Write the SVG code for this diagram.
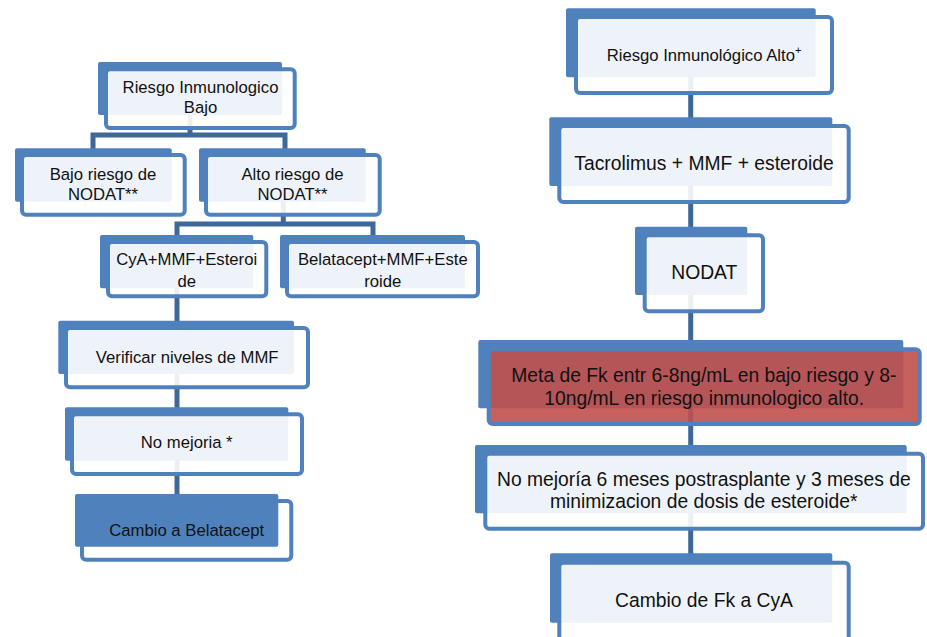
<svg xmlns="http://www.w3.org/2000/svg" width="927" height="637" viewBox="0 0 927 637">
<style>
.back{fill:#4F81BD;}
.front{fill:#FFFFFF;fill-opacity:0.9;stroke:#4F81BD;stroke-width:4;}
.red{fill:#C0504D;fill-opacity:0.9;stroke:#4F81BD;stroke-width:4;}
.outline{fill:#FFFFFF;stroke:#4F81BD;stroke-width:4;}
.conn{fill:none;stroke:#3E6898;stroke-width:5;}
text{font-family:"Liberation Sans",Arial,sans-serif;fill:#111111;text-anchor:middle;}
.s{font-size:16.7px;}
.l{font-size:19.3px;}
</style>
<rect width="927" height="637" fill="#FFFFFF"/>
<g id="connectors">
<path class="conn" d="M190,114 V135"/>
<path class="conn" d="M93,152 V135 H285 V152"/>
<path class="conn" d="M283.3,200 V224"/>
<path class="conn" d="M177,238 V224 H373 V238"/>
<path class="conn" d="M177,287 V322"/>
<path class="conn" d="M177,373 V409"/>
<path class="conn" d="M177,460 V496"/>
<path class="conn" d="M690.7,76 V119"/>
<path class="conn" d="M690.7,185 V228"/>
<path class="conn" d="M690.7,294 V342"/>
<path class="conn" d="M690.7,407 V447"/>
<path class="conn" d="M690.7,512 V555"/>
</g>
<g id="riesgo-bajo">
<rect class="back" x="98" y="62" width="184" height="53" rx="2"/>
<rect class="front" x="106" y="69.3" width="188.7" height="58.7" rx="4"/>
<text class="s" x="200.5" y="93.3">Riesgo Inmunologico</text>
<text class="s" x="200.5" y="113.3">Bajo</text>
</g>
<g id="bajo-nodat">
<rect class="back" x="15" y="148.3" width="156.7" height="53.4" rx="2"/>
<rect class="front" x="22" y="155" width="162.7" height="59.7" rx="4"/>
<text class="s" x="103" y="180">Bajo riesgo de</text>
<text class="s" x="103" y="200">NODAT**</text>
</g>
<g id="alto-nodat">
<rect class="back" x="199" y="148.3" width="166.7" height="53.4" rx="2"/>
<rect class="front" x="206" y="155" width="173.7" height="59.7" rx="4"/>
<text class="s" x="292.5" y="180">Alto riesgo de</text>
<text class="s" x="292.5" y="200">NODAT**</text>
</g>
<g id="cya-mmf">
<rect class="back" x="100" y="235" width="153.3" height="53.3" rx="2"/>
<rect class="front" x="108" y="242" width="158.3" height="54.3" rx="4"/>
<text class="s" x="186.7" y="265">CyA+MMF+Esteroi</text>
<text class="s" x="186.7" y="286.7">de</text>
</g>
<g id="belatacept-mmf">
<rect class="back" x="280" y="235" width="185" height="53.3" rx="2"/>
<rect class="front" x="287" y="242" width="191" height="54.3" rx="4"/>
<text class="s" x="382.8" y="265">Belatacept+MMF+Este</text>
<text class="s" x="382.8" y="286.7">roide</text>
</g>
<g id="verificar">
<rect class="back" x="58.3" y="320.7" width="235.7" height="53.3" rx="2"/>
<rect class="front" x="66" y="328" width="242" height="59.3" rx="4"/>
<text class="s" x="187.2" y="363.3">Verificar niveles de MMF</text>
</g>
<g id="no-mejoria">
<rect class="back" x="65" y="407.3" width="223.3" height="53.4" rx="2"/>
<rect class="front" x="72" y="414.3" width="230" height="59.7" rx="4"/>
<text class="s" x="186.7" y="448.3">No mejoria *</text>
</g>
<g id="cambio-belatacept">
<rect class="outline" x="82" y="501" width="209.3" height="58.7" rx="4"/>
<rect class="back" x="75" y="494" width="203.3" height="52.7" rx="2"/>
<text class="s" x="186.7" y="535.5">Cambio a Belatacept</text>
</g>
<g id="riesgo-alto">
<rect class="back" x="566" y="8.3" width="249.7" height="69" rx="2"/>
<rect class="front" x="576" y="17" width="256" height="76" rx="4"/>
<text class="s" x="704" y="61">Riesgo Inmunológico Alto<tspan font-size="11" dy="-7">+</tspan></text>
</g>
<g id="tacrolimus">
<rect class="back" x="549.3" y="117.3" width="283" height="68.7" rx="2"/>
<rect class="front" x="559.3" y="126" width="289.4" height="76" rx="4"/>
<text class="l" x="704" y="170">Tacrolimus + MMF + esteroide</text>
</g>
<g id="nodat">
<rect class="back" x="635" y="226.7" width="112.3" height="68.3" rx="2"/>
<rect class="front" x="644.7" y="235.3" width="118.3" height="76" rx="4"/>
<text class="l" x="704.3" y="279.3">NODAT</text>
</g>
<g id="meta-fk">
<rect class="back" x="478.3" y="340" width="425" height="68.3" rx="2"/>
<rect class="red" x="488.7" y="349.3" width="431" height="74.7" rx="4"/>
<text class="l" x="703.8" y="381.7">Meta de Fk entr 6-8ng/mL en bajo riesgo y 8-</text>
<text class="l" x="704.2" y="405">10ng/mL en riesgo inmunologico alto.</text>
</g>
<g id="no-mejoria-6m">
<rect class="back" x="475" y="445" width="431.7" height="68.3" rx="2"/>
<rect class="front" x="485.3" y="453.7" width="437.7" height="75" rx="4"/>
<text class="l" x="703.8" y="485.7">No mejoría 6 meses postrasplante y 3 meses de</text>
<text class="l" x="703.7" y="508.3">minimizacion de dosis de esteroide*</text>
</g>
<g id="cambio-fk-cya">
<rect class="back" x="550" y="553.3" width="282.3" height="69.4" rx="2"/>
<rect class="front" x="559.3" y="562.7" width="289.4" height="80" rx="4"/>
<text class="l" x="704" y="606.7">Cambio de Fk a CyA</text>
</g>
</svg>
